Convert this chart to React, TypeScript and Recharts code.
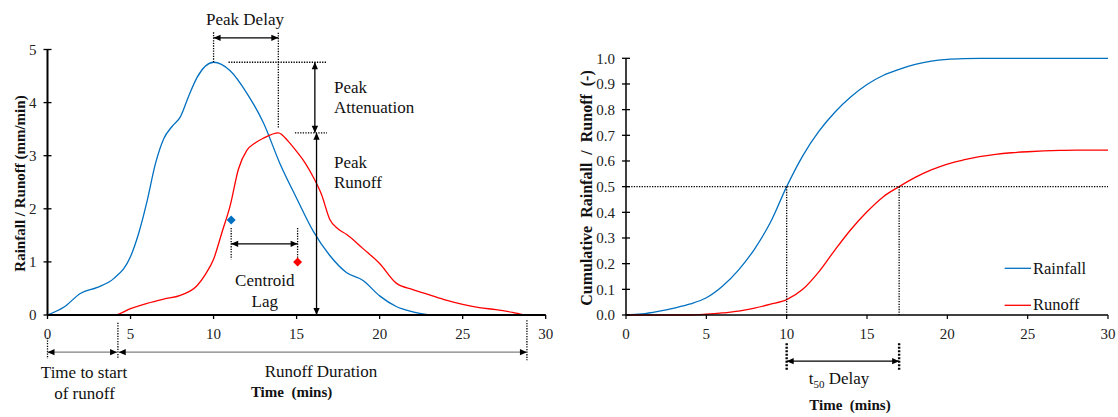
import React from 'react';
import { LineChart, Line, XAxis, YAxis, ReferenceLine, ReferenceDot } from 'recharts';

// shared axis ticks
const timeTicks = [0, 5, 10, 15, 20, 25, 30];
const rateTicks = [0, 1, 2, 3, 4, 5];
const cumTicks = [0, 0.1, 0.2, 0.3, 0.4, 0.5, 0.6, 0.7, 0.8, 0.9, 1.0];

// hydrograph (mm/min)
const rainTime = [0, 1, 2, 3, 4, 5, 5.5, 6, 6.5, 7, 7.5, 8, 8.5, 9, 10, 11, 12, 13, 14, 15, 16, 17, 18, 19, 20, 21, 22, 23];
const rainRate = [0, 0.15, 0.41, 0.52, 0.69, 1.1, 1.55, 2.15, 2.85, 3.32, 3.55, 3.73, 4.12, 4.47, 4.76, 4.6, 4.18, 3.62, 2.85, 2.2, 1.58, 1.12, 0.8, 0.65, 0.36, 0.16, 0.06, 0];
const runoffTime = [0, 4.05, 5, 6, 7, 8, 9, 9.5, 10, 10.5, 11, 11.5, 12, 12.5, 13, 13.9, 14.5, 15, 15.5, 16, 16.5, 17, 17.5, 18, 19, 20, 21, 22, 23, 24, 25, 26, 27, 28, 28.85, 30];
const runoffRate = [0, 0, 0.12, 0.22, 0.3, 0.37, 0.55, 0.76, 1.05, 1.55, 2.06, 2.75, 3.1, 3.24, 3.33, 3.43, 3.27, 3.08, 2.87, 2.6, 2.27, 1.8, 1.62, 1.52, 1.25, 0.97, 0.6, 0.48, 0.38, 0.28, 0.2, 0.14, 0.1, 0.05, 0, 0];

// centroids (rainfall, runoff)
const centroidTime = [11.06, 15.06];
const centroidRate = [1.79, 1.0];

// cumulative fractions
const cumTime = [0, 1, 2, 3, 4, 5, 6, 7, 8, 9, 10, 11, 12, 13, 14, 15, 16, 17, 18, 19, 20, 21, 22, 23, 24, 25, 26, 27, 28, 29, 30];
const cumRain = [0, 0.004, 0.014, 0.027, 0.043, 0.067, 0.112, 0.175, 0.257, 0.362, 0.5, 0.62, 0.715, 0.79, 0.85, 0.898, 0.933, 0.957, 0.976, 0.989, 0.996, 0.999, 1, 1, 1, 1, 1, 1, 1, 1, 1];
const cumRunoff = [0, 0, 0, 0, 0, 0.003, 0.008, 0.015, 0.027, 0.042, 0.06, 0.1, 0.168, 0.253, 0.333, 0.402, 0.46, 0.5, 0.536, 0.565, 0.588, 0.604, 0.617, 0.626, 0.632, 0.636, 0.639, 0.641, 0.642, 0.642, 0.642];

const seriesNames = ['Rainfall', 'Runoff'];
const seriesColors = ['#0070C0', '#FF0000'];

const toPoints = (ts: number[], vs: number[]) => ts.map((t, i) => ({ t, v: vs[i] }));
const rainfall = toPoints(rainTime, rainRate);
const runoff = toPoints(runoffTime, runoffRate);
const cumRainfall = toPoints(cumTime, cumRain);
const cumRunoffPts = toPoints(cumTime, cumRunoff);

const peakOf = (ts: number[], vs: number[]) => {
  const i = vs.indexOf(Math.max(...vs));
  return { t: ts[i], v: vs[i] };
};
const rainPeak = peakOf(rainTime, rainRate);
const runPeak = peakOf(runoffTime, runoffRate);
const runoffStart = 4.24;
const runoffEnd = 28.87;
const t50Rain = 10;
const t50Runoff = 17;

const FONT = '"Liberation Serif", "Times New Roman", serif';
const NB = '\u00A0';

const dotted = (x1: number, y1: number, x2: number, y2: number, w = 1.3) => (
  <ReferenceLine
    key={`d${x1}-${y1}-${x2}-${y2}-${w}`}
    segment={[{ x: x1, y: y1 }, { x: x2, y: y2 }]}
    ifOverflow="visible"
    stroke="#000"
    strokeWidth={w}
    strokeDasharray={w > 2 ? '2 1.5' : '1.3 1.3'}
  />
);

const arrow = (x1: number, y1: number, x2: number, y2: number, color = '#000') => (
  <ReferenceLine
    key={`a${x1}-${y1}-${x2}-${y2}`}
    segment={[{ x: x1, y: y1 }, { x: x2, y: y2 }]}
    ifOverflow="visible"
    shape={(p: any) => (
      <line
        x1={p.x1}
        y1={p.y1}
        x2={p.x2}
        y2={p.y2}
        stroke={color}
        strokeWidth={1.3}
        markerStart="url(#arrowHead)"
        markerEnd="url(#arrowHead)"
      />
    )}
  />
);

const makeYTick = (fmt: (v: number) => string, offset: number) => (props: any) => {
  const { x, y, payload } = props;
  const ax = x + offset;
  return (
    <g>
      <line x1={ax - 4} x2={ax + 4} y1={y} y2={y} stroke="#000" strokeWidth={1.3} />
      <text x={x} y={y} dy="0.35em" textAnchor="end" fontFamily={FONT} fontSize={15} fill="#222">
        {fmt(payload.value)}
      </text>
    </g>
  );
};

const tickStyle = { fontFamily: FONT, fontSize: 15, fill: '#222' };

function Hydrograph() {
  return (
    <LineChart width={560} height={417} margin={{ top: 49.5, right: 14.3, bottom: 72, left: 17.5 }}>
      <XAxis
        type="number"
        dataKey="t"
        domain={[0, 30]}
        ticks={timeTicks}
        height={30}
        tick={tickStyle}
        tickSize={4}
        tickMargin={9}
        axisLine={{ stroke: '#000', strokeWidth: 2 }}
        tickLine={{ stroke: '#000', strokeWidth: 1.3 }}
      />
      <YAxis
        type="number"
        domain={[0, 5]}
        ticks={rateTicks}
        width={30}
        tickSize={4}
        tickMargin={7}
        tickLine={false}
        tick={makeYTick((v) => String(v), 11)}
        axisLine={{ stroke: '#000', strokeWidth: 2 }}
      />
      <Line data={rainfall} dataKey="v" name={seriesNames[0]} type="monotone" stroke={seriesColors[0]} strokeWidth={1.3} dot={false} isAnimationActive={false} />
      <Line data={runoff} dataKey="v" name={seriesNames[1]} type="monotone" stroke={seriesColors[1]} strokeWidth={1.3} dot={false} isAnimationActive={false} />

      {/* peak delay */}
      {dotted(rainPeak.t, rainPeak.v, rainPeak.t, 5.33)}
      {dotted(runPeak.t, runPeak.v + 0.1, runPeak.t, 5.33)}
      {arrow(rainPeak.t, 5.22, runPeak.t, 5.22)}

      {/* peak attenuation / peak runoff */}
      {dotted(10.9, rainPeak.v, 16.83, rainPeak.v)}
      {dotted(14.9, runPeak.v, 16.83, runPeak.v)}
      {arrow(16.1, rainPeak.v, 16.1, runPeak.v)}
      {arrow(16.2, runPeak.v, 16.2, 0)}

      {/* centroid lag */}
      {dotted(centroidTime[0], 1.64, centroidTime[0], 1.05)}
      {dotted(centroidTime[1], 1.64, centroidTime[1], 1.07)}
      {arrow(centroidTime[0], 1.34, centroidTime[1], 1.34)}

      {/* time to start / runoff duration */}
      {dotted(0, -0.43, 0, -0.83)}
      {dotted(runoffStart, -0.145, runoffStart, -0.83)}
      {dotted(runoffEnd, -0.1, runoffEnd, -0.85)}
      {arrow(0, -0.7, runoffStart - 0.05, -0.7, '#808080')}
      {arrow(runoffStart + 0.05, -0.7, runoffEnd, -0.7, '#808080')}

      {centroidTime.map((t, i) => (
        <ReferenceDot
          key={`c${i}`}
          x={t}
          y={centroidRate[i]}
          ifOverflow="visible"
          shape={(p: any) => (
            <path
              d={`M${p.cx},${p.cy - 4.5} L${p.cx + 4.5},${p.cy} L${p.cx},${p.cy + 4.5} L${p.cx - 4.5},${p.cy} Z`}
              fill={seriesColors[i]}
            />
          )}
        />
      ))}
    </LineChart>
  );
}

function Cumulative() {
  return (
    <LineChart width={558} height={417} margin={{ top: 58.3, right: 10, bottom: 72, left: 36 }}>
      <XAxis
        type="number"
        dataKey="t"
        domain={[0, 30]}
        ticks={timeTicks}
        height={30}
        tick={tickStyle}
        tickSize={4}
        tickMargin={9}
        axisLine={{ stroke: '#000', strokeWidth: 1.5 }}
        tickLine={{ stroke: '#000', strokeWidth: 1.2 }}
      />
      <YAxis
        type="number"
        domain={[0, 1]}
        ticks={cumTicks}
        width={30}
        tickSize={4}
        tickMargin={7}
        tickLine={false}
        tick={makeYTick((v) => v.toFixed(1), 11)}
        axisLine={{ stroke: '#000', strokeWidth: 1.5 }}
      />
      <Line data={cumRainfall} dataKey="v" name={seriesNames[0]} type="monotone" stroke={seriesColors[0]} strokeWidth={1.3} dot={false} isAnimationActive={false} />
      <Line data={cumRunoffPts} dataKey="v" name={seriesNames[1]} type="monotone" stroke={seriesColors[1]} strokeWidth={1.3} dot={false} isAnimationActive={false} />

      {dotted(0, 0.5, 30, 0.5)}
      {dotted(t50Rain, 0.5, t50Rain, 0)}
      {dotted(t50Runoff, 0.5, t50Runoff, 0)}
      {dotted(t50Rain, -0.11, t50Rain, -0.214, 2.4)}
      {dotted(t50Runoff, -0.11, t50Runoff, -0.214, 2.4)}
      {arrow(t50Rain, -0.18, t50Runoff, -0.18)}
    </LineChart>
  );
}

function Overlay() {
  const t = { fontFamily: FONT, fontSize: 17, fill: '#111' } as const;
  const b = { fontFamily: FONT, fontSize: 15, fontWeight: 700, fill: '#111' } as const;
  return (
    <svg width={1118} height={417} style={{ position: 'absolute', left: 0, top: 0, pointerEvents: 'none' }}>
      <defs>
        <marker id="arrowHead" viewBox="0 0 10 10" refX="10" refY="5" markerWidth="8" markerHeight="7" markerUnits="userSpaceOnUse" orient="auto-start-reverse">
          <path d="M0,0.5 L10,5 L0,9.5 Z" fill="#000" />
        </marker>
      </defs>

      <text {...t} x={245} y={25} textAnchor="middle">Peak Delay</text>
      <text {...t} x={334} y={93.3}>Peak</text>
      <text {...t} x={334} y={113.3}>Attenuation</text>
      <text {...t} x={334} y={168.3}>Peak</text>
      <text {...t} x={334} y={188.3}>Runoff</text>
      <text {...t} x={264.8} y={285.7} textAnchor="middle">Centroid</text>
      <text {...t} x={264.8} y={306.7} textAnchor="middle">Lag</text>
      <text {...t} x={84} y={378.3} textAnchor="middle">Time to start</text>
      <text {...t} x={84.5} y={399} textAnchor="middle">of runoff</text>
      <text {...t} x={321} y={376.7} textAnchor="middle">Runoff Duration</text>
      <text {...b} x={291.6} y={397.3} textAnchor="middle">{`Time${NB} (mins)`}</text>
      <text {...b} x={24.5} y={183.5} textAnchor="middle" transform="rotate(-90 24.5 183.5)">
        {'Rainfall / Runoff (mm/min)'}
      </text>

      <text {...t} x={839} y={384} textAnchor="middle">
        t<tspan fontSize={11} dy={4}>50</tspan>
        <tspan dy={-4}> Delay</tspan>
      </text>
      <text {...b} x={850} y={410} textAnchor="middle">{`Time${NB} (mins)`}</text>
      <text {...b} fontSize={16} x={591.5} y={188} textAnchor="middle" transform="rotate(-90 591.5 188)">
        {`Cumulative${NB} Rainfall${NB} /${NB} Runoff${NB} (-)`}
      </text>

      {seriesNames.map((n, i) => (
        <g key={n}>
          <line x1={1004.6} x2={1031} y1={268.3 + i * 37} y2={268.3 + i * 37} stroke={seriesColors[i]} strokeWidth={1.3} />
          <text {...t} fontSize={16.5} x={1033} y={274 + i * 36}>{n}</text>
        </g>
      ))}
    </svg>
  );
}

export default function App() {
  return (
    <div style={{ position: 'absolute', left: 0, top: 0, width: 1118, height: 417, background: '#fff' }}>
      <div style={{ position: 'absolute', left: 0, top: 0 }}>
        <Hydrograph />
      </div>
      <div style={{ position: 'absolute', left: 560, top: 0 }}>
        <Cumulative />
      </div>
      <Overlay />
    </div>
  );
}
